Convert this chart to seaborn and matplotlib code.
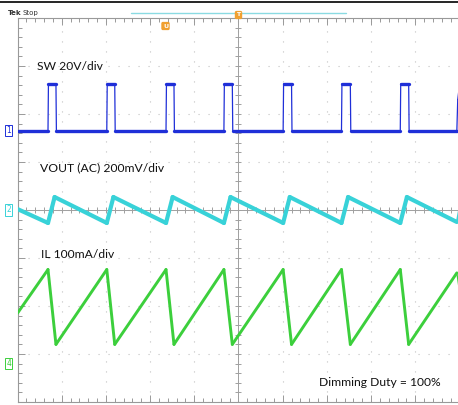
import matplotlib
matplotlib.use("Agg")
import matplotlib.pyplot as plt
from matplotlib.lines import Line2D
from matplotlib.ticker import MultipleLocator
import pandas as pd
import seaborn as sns

# %% Data, in divisions (x: 0..10, y: -4..4)
sw_t = [0.0, 0.69, 0.70, 0.87, 0.88, 2.02, 2.03, 2.20, 2.21, 3.36, 3.37, 3.54, 3.55,
        4.67, 4.68, 4.86, 4.87, 6.01, 6.02, 6.20, 6.21, 7.33, 7.34, 7.53, 7.54,
        8.66, 8.67, 8.85, 8.86, 9.94, 9.96, 10.0]
sw_v = [1.65, 1.65, 2.63, 2.63, 1.65, 1.65, 2.63, 2.63, 1.65, 1.65, 2.63, 2.63, 1.65,
        1.65, 2.63, 2.63, 1.65, 1.65, 2.63, 2.63, 1.65, 1.65, 2.63, 2.63, 1.65,
        1.65, 2.63, 2.63, 1.65, 1.65, 2.30, 2.60]

vout_t = [0.0, 0.69, 0.84, 2.02, 2.17, 3.36, 3.51, 4.67, 4.82, 6.01, 6.16,
          7.33, 7.48, 8.66, 8.81, 9.94, 10.0]
vout_v = [0.02, -0.27, 0.27, -0.27, 0.27, -0.27, 0.27, -0.27, 0.27, -0.27, 0.27,
          -0.27, 0.27, -0.27, 0.27, -0.25, 0.05]

il_t = [0.0, 0.69, 0.87, 2.02, 2.20, 3.36, 3.54, 4.67, 4.86, 6.01, 6.20,
        7.33, 7.53, 8.66, 8.85, 9.94, 10.0]
il_v = [-2.15, -1.24, -2.80, -1.24, -2.80, -1.24, -2.80, -1.24, -2.80, -1.24, -2.80,
        -1.24, -2.80, -1.24, -2.80, -1.31, -1.70]

ch_names = ["1", "2", "4"]
ch_levels = [1.65, 0.0, -3.2]

sw_color = "#1f2fd8"
vout_color = "#38d2d8"
il_color = "#3ccf3c"
label_sw = "SW 20V/div"
label_vout = "VOUT (AC) 200mV/div"
label_il = "IL 100mA/div"
label_duty = "Dimming Duty = 100%"


def segments(t, v):
    # split a trace into 2-point pieces, flag the slow ones (drawn thick like scope noise)
    rows = []
    for i in range(len(t) - 1):
        slow = (t[i + 1] - t[i]) > 0.1
        rows.append({"t": t[i], "v": v[i], "seg": i, "slow": slow})
        rows.append({"t": t[i + 1], "v": v[i + 1], "seg": i, "slow": slow})
    return pd.DataFrame(rows)


# %% Figure
sns.set_style("white")
plt.rcParams["font.family"] = ["Lato", "DejaVu Sans"]

W, H = 458, 405
fig = plt.figure(figsize=(W / 100, H / 100), dpi=100)
fig.patch.set_facecolor("white")
ax = fig.add_axes([17.5 / W, 1 - 402 / H, 442 / W, 384 / H])
ax.set_xlim(0, 10)
ax.set_ylim(-4, 4)
ax.set_facecolor("white")

# graticule
grid_c = "#c2c2c2"
for s in ax.spines.values():
    s.set_color("#999999")
    s.set_linewidth(0.8)
ax.spines["right"].set_visible(False)
ax.xaxis.set_major_locator(MultipleLocator(1))
ax.yaxis.set_major_locator(MultipleLocator(1))
ax.xaxis.set_minor_locator(MultipleLocator(0.2))
ax.yaxis.set_minor_locator(MultipleLocator(0.2))
ax.tick_params(which="both", direction="in", top=True, bottom=True, left=True, right=False,
               labelbottom=False, labelleft=False, color="#999999", width=0.7)
ax.tick_params(which="major", length=5)
ax.tick_params(which="minor", length=3)
ax.grid(True, which="major", color=grid_c, linestyle=(0, (1, 8)), linewidth=0.8)
ax.axhline(0, color="#a0a0a0", lw=0.7, zorder=1)
ax.axvline(5, color="#a0a0a0", lw=0.7, zorder=1)
minor = [i * 0.2 for i in range(51)]
ax.plot(minor, [0] * len(minor), ls="none", marker="|", ms=5, mew=0.7, color="#a0a0a0", zorder=1)
minor_y = [-4 + i * 0.2 for i in range(41)]
ax.plot([5] * len(minor_y), minor_y, ls="none", marker="_", ms=5, mew=0.7, color="#a0a0a0", zorder=1)

# traces
for t, v, c, lw_slow, lw_fast in [(sw_t, sw_v, sw_color, 2.4, 0.9),
                                   (vout_t, vout_v, vout_color, 3.0, 1.4),
                                   (il_t, il_v, il_color, 2.1, 0.9)]:
    df = segments(t, v)
    sns.lineplot(data=df[~df["slow"]], x="t", y="v", units="seg", estimator=None, sort=False,
                 color=c, lw=lw_fast, ax=ax, zorder=3)
    sns.lineplot(data=df[df["slow"]], x="t", y="v", units="seg", estimator=None, sort=False,
                 color=c, lw=lw_slow, ax=ax, zorder=4, solid_capstyle="round")
ax.set_xlabel("")
ax.set_ylabel("")

# channel markers on the left edge
for name, lev, c in zip(ch_names, ch_levels, [sw_color, vout_color, il_color]):
    ax.text(-0.2, lev, name, color=c, fontsize=5.5, ha="center", va="center", clip_on=False,
            family="DejaVu Sans",
            bbox=dict(boxstyle="square,pad=0.15", fc="white", ec=c, lw=0.7))

# annotations
fx = lambda x: x / W
fy = lambda y: 1 - y / H
fig.text(fx(37), fy(66), label_sw, fontsize=8.7, va="center", ha="left", color="#111111")
fig.text(fx(40), fy(168), label_vout, fontsize=8.7, va="center", ha="left", color="#111111")
fig.text(fx(41), fy(254), label_il, fontsize=8.7, va="center", ha="left", color="#111111")
fig.text(fx(319), fy(383), label_duty, fontsize=8.7, va="center", ha="left", color="#111111")

# scope header
fig.add_artist(Line2D([0, 1], [fy(2), fy(2)], color="black", lw=1.2))
fig.text(fx(8), fy(13), "Tek", fontsize=5, fontweight="bold", va="center", ha="left",
         family="DejaVu Sans", color="#333333")
fig.text(fx(22.5), fy(13), "Stop", fontsize=5, va="center", ha="left", color="#333333",
         family="DejaVu Sans")
fig.add_artist(Line2D([fx(131), fx(346)], [fy(13), fy(13)], color="#8adbe2", lw=1.0))
fig.text(fx(165.5), fy(26), "U", fontsize=4.5, color="white", fontweight="bold", ha="center",
         va="center", family="DejaVu Sans",
         bbox=dict(boxstyle="round,pad=0.15", fc="#f0a030", ec="#f0a030"))
fig.text(fx(238.5), fy(15), "T", fontsize=4.5, color="white", fontweight="bold", ha="center",
         va="center", family="DejaVu Sans",
         bbox=dict(boxstyle="round,pad=0.15", fc="#f0a030", ec="#f0a030"))

fig.savefig("out.png", dpi=100, facecolor="white")
